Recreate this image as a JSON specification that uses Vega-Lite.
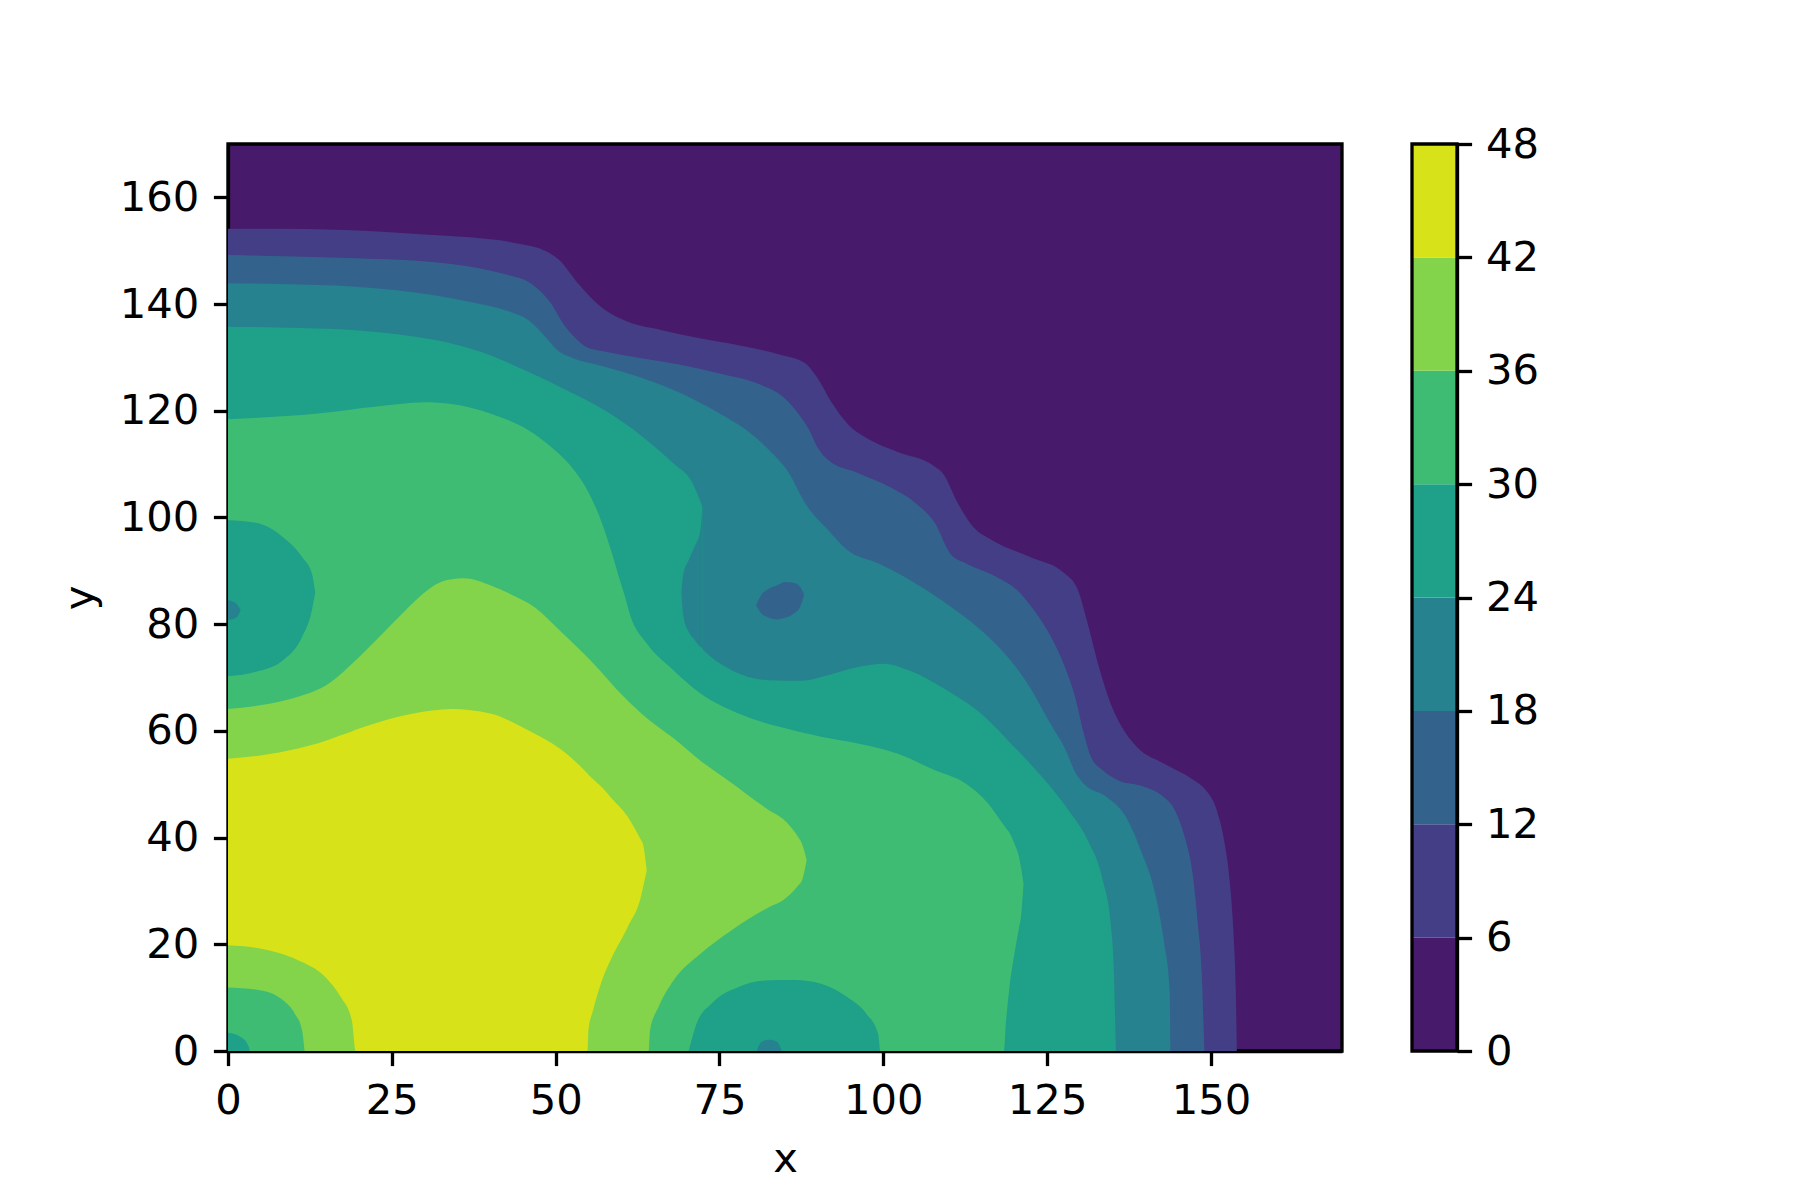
{
  "$schema": "https://vega.github.io/schema/vega-lite/v6.json",
  "background": "white",
  "padding": {"left": 57, "top": 124, "right": 10, "bottom": 10},
  "datasets": {
    "b6": [{"x":0,"lo":0,"hi":154.1},{"x":6.7,"lo":0,"hi":154.1},{"x":17.8,"lo":0,"hi":153.9},{"x":29.4,"lo":0,"hi":153.1},{"x":37,"lo":0,"hi":152.5},{"x":44,"lo":0,"hi":151.4},{"x":48.7,"lo":0,"hi":149.8},{"x":50.5,"lo":0,"hi":148.3},{"x":53.4,"lo":0,"hi":143.9},{"x":56.9,"lo":0,"hi":139.5},{"x":60.4,"lo":0,"hi":137},{"x":66.2,"lo":0,"hi":135.1},{"x":72,"lo":0,"hi":133.6},{"x":77.9,"lo":0,"hi":132.3},{"x":84,"lo":0,"hi":130.6},{"x":88.1,"lo":0,"hi":128.9},{"x":89.8,"lo":0,"hi":126.4},{"x":92.2,"lo":0,"hi":121.4},{"x":94.5,"lo":0,"hi":117.6},{"x":98,"lo":0,"hi":114.5},{"x":102.1,"lo":0,"hi":112.3},{"x":107.9,"lo":0,"hi":109.5},{"x":109.1,"lo":0,"hi":108.25},{"x":111.4,"lo":0,"hi":102.6},{"x":113.7,"lo":0,"hi":98.25},{"x":116.6,"lo":0,"hi":95.75},{"x":122.4,"lo":0,"hi":92.6},{"x":127.7,"lo":0,"hi":89.5},{"x":129.7,"lo":0,"hi":86.4},{"x":131.2,"lo":0,"hi":80.1},{"x":132.9,"lo":0,"hi":72},{"x":134.7,"lo":0,"hi":65.1},{"x":136.4,"lo":0,"hi":60.75},{"x":138.7,"lo":0,"hi":57},{"x":142.8,"lo":0,"hi":53.9},{"x":147.4,"lo":0,"hi":50.75},{"x":149.2,"lo":0,"hi":48.9},{"x":150.9,"lo":0,"hi":45.1},{"x":152.1,"lo":0,"hi":38.9},{"x":153,"lo":0,"hi":30.1},{"x":153.5,"lo":0,"hi":20.75},{"x":153.8,"lo":0,"hi":11.4},{"x":153.95,"lo":0,"hi":0}],
    "b12": [{"x":0,"lo":0,"hi":149.2},{"x":6.7,"lo":0,"hi":149},{"x":19.5,"lo":0,"hi":148.6},{"x":31.2,"lo":0,"hi":147.9},{"x":37,"lo":0,"hi":147},{"x":42.9,"lo":0,"hi":145.4},{"x":45.8,"lo":0,"hi":144.2},{"x":47.5,"lo":0,"hi":142.6},{"x":49.3,"lo":0,"hi":140.1},{"x":51.1,"lo":0,"hi":136.4},{"x":52.8,"lo":0,"hi":133.9},{"x":54.6,"lo":0,"hi":132},{"x":57.5,"lo":0,"hi":131.1},{"x":63.3,"lo":0,"hi":129.8},{"x":69.2,"lo":0,"hi":128.6},{"x":75,"lo":0,"hi":127},{"x":80.8,"lo":0,"hi":125.1},{"x":85,"lo":0,"hi":122.3},{"x":87,"lo":0,"hi":119.5},{"x":88.7,"lo":0,"hi":116.4},{"x":89.9,"lo":0,"hi":113.25},{"x":91.6,"lo":0,"hi":110.75},{"x":96.3,"lo":0,"hi":108.25},{"x":100.9,"lo":0,"hi":105.75},{"x":105,"lo":0,"hi":102.6},{"x":107.9,"lo":0,"hi":98.9},{"x":110.2,"lo":0,"hi":93.25},{"x":112.6,"lo":0,"hi":91.4},{"x":117.2,"lo":0,"hi":88.9},{"x":120.4,"lo":0,"hi":86.4},{"x":123,"lo":0,"hi":82.6},{"x":125.3,"lo":0,"hi":78.25},{"x":127.7,"lo":0,"hi":72},{"x":129.4,"lo":0,"hi":65.75},{"x":130.6,"lo":0,"hi":59.5},{"x":131.7,"lo":0,"hi":55.1},{"x":133.5,"lo":0,"hi":52.6},{"x":135.8,"lo":0,"hi":50.75},{"x":139.9,"lo":0,"hi":49.5},{"x":142.8,"lo":0,"hi":47.6},{"x":144.5,"lo":0,"hi":45.1},{"x":146,"lo":0,"hi":40.1},{"x":147.2,"lo":0,"hi":33.25},{"x":148,"lo":0,"hi":23.9},{"x":148.6,"lo":0,"hi":14.5},{"x":149,"lo":0,"hi":0}],
    "b18": [{"x":0,"lo":0,"hi":143.9},{"x":7.8,"lo":0,"hi":143.75},{"x":19.5,"lo":0,"hi":143.25},{"x":31.2,"lo":0,"hi":141.7},{"x":37,"lo":0,"hi":140.4},{"x":42.9,"lo":0,"hi":138.6},{"x":45.8,"lo":0,"hi":137},{"x":47.5,"lo":0,"hi":135.1},{"x":49.3,"lo":0,"hi":132.6},{"x":50.5,"lo":0,"hi":131.1},{"x":52.2,"lo":0,"hi":130.1},{"x":57.5,"lo":0,"hi":128.25},{"x":63.3,"lo":0,"hi":126.1},{"x":69.2,"lo":0,"hi":123.25},{"x":75,"lo":0,"hi":119.5},{"x":79.1,"lo":0,"hi":116.4},{"x":82.6,"lo":0,"hi":112.6},{"x":85.5,"lo":0,"hi":108.5},{"x":88.1,"lo":0,"hi":102.6},{"x":91.6,"lo":0,"hi":97.6},{"x":94.5,"lo":0,"hi":93.9},{"x":99.2,"lo":0,"hi":91.4},{"x":105,"lo":0,"hi":87.6},{"x":110.5,"lo":0,"hi":83.1},{"x":115.5,"lo":0,"hi":78.25},{"x":119.5,"lo":0,"hi":73.1},{"x":122.4,"lo":0,"hi":68.1},{"x":125.3,"lo":0,"hi":61.75},{"x":127.7,"lo":0,"hi":56.75},{"x":129.4,"lo":0,"hi":52},{"x":130.6,"lo":0,"hi":50.1},{"x":134.1,"lo":0,"hi":47.6},{"x":137,"lo":0,"hi":43.9},{"x":139.3,"lo":0,"hi":37.6},{"x":141.6,"lo":0,"hi":28.9},{"x":142.8,"lo":0,"hi":20.75},{"x":143.7,"lo":0,"hi":11.4},{"x":143.8,"lo":0,"hi":0}],
    "b24a": [{"x":0,"lo":0,"hi":135.75},{"x":7.8,"lo":0,"hi":135.6},{"x":19.5,"lo":0,"hi":135.1},{"x":28.3,"lo":0,"hi":133.9},{"x":34.1,"lo":0,"hi":132.6},{"x":40,"lo":0,"hi":130.4},{"x":45.8,"lo":0,"hi":127.3},{"x":51.6,"lo":0,"hi":123.9},{"x":57.5,"lo":0,"hi":120.1},{"x":63.3,"lo":0,"hi":115.1},{"x":68,"lo":0,"hi":110.1},{"x":70.9,"lo":0,"hi":106.4},{"x":72.4,"lo":0,"hi":102}],
    "b24b": [{"x":69.2,"lo":0,"hi":86},{"x":69.5,"lo":0,"hi":81.5},{"x":70.3,"lo":0,"hi":78.6},{"x":72.1,"lo":0,"hi":75.75},{"x":76.8,"lo":0,"hi":71.4},{"x":82.6,"lo":0,"hi":69.5},{"x":87.7,"lo":0,"hi":69.4},{"x":90.5,"lo":0,"hi":70.1},{"x":96.3,"lo":0,"hi":72},{"x":100,"lo":0,"hi":72.6},{"x":103.8,"lo":0,"hi":71.4},{"x":109.7,"lo":0,"hi":67.6},{"x":115.5,"lo":0,"hi":62.6},{"x":119.5,"lo":0,"hi":57.6},{"x":124.2,"lo":0,"hi":51.4},{"x":128.3,"lo":0,"hi":45.1},{"x":131.2,"lo":0,"hi":39.5},{"x":133.5,"lo":0,"hi":32},{"x":134.7,"lo":0,"hi":23.9},{"x":135.2,"lo":0,"hi":14.5},{"x":135.5,"lo":0,"hi":0}],
    "c18": [{"x":69.2,"lo":86,"hi":86},{"x":69.5,"lo":81.5,"hi":89.5},{"x":70.3,"lo":78.6,"hi":92},{"x":71.2,"lo":77.1,"hi":94.5},{"x":72.1,"lo":75.75,"hi":97.6},{"x":72.4,"lo":75.5,"hi":102}],
    "b30": [{"x":0,"lo":0,"hi":118.4},{"x":3.2,"lo":0,"hi":118.6},{"x":13.7,"lo":0,"hi":119.5},{"x":22.4,"lo":0,"hi":120.75},{"x":30,"lo":0,"hi":121.6},{"x":34.1,"lo":0,"hi":121.25},{"x":40,"lo":0,"hi":119.5},{"x":45.8,"lo":0,"hi":116.4},{"x":49.9,"lo":0,"hi":112.6},{"x":52.8,"lo":0,"hi":108.9},{"x":55.1,"lo":0,"hi":104.5},{"x":56.9,"lo":0,"hi":99.5},{"x":58.6,"lo":0,"hi":93.25},{"x":59.8,"lo":0,"hi":88.25},{"x":60.5,"lo":0,"hi":85.5},{"x":61.4,"lo":0,"hi":81.6},{"x":63.9,"lo":0,"hi":76.4},{"x":67.4,"lo":0,"hi":72},{"x":72.1,"lo":0,"hi":67},{"x":77.9,"lo":0,"hi":63.25},{"x":84,"lo":0,"hi":60.8},{"x":90.5,"lo":0,"hi":58.9},{"x":96.3,"lo":0,"hi":57.6},{"x":102.1,"lo":0,"hi":55.75},{"x":107.9,"lo":0,"hi":52.6},{"x":112.6,"lo":0,"hi":50.1},{"x":116,"lo":0,"hi":46.4},{"x":118.4,"lo":0,"hi":42.3},{"x":118.7,"lo":5.1,"hi":41.8},{"x":119.2,"lo":11.4,"hi":41},{"x":120.1,"lo":18.9,"hi":38.6},{"x":120.7,"lo":23,"hi":36.4},{"x":121,"lo":25.1,"hi":34.5},{"x":121.4,"lo":31.4,"hi":31.4}],
    "b36": [{"x":0,"lo":0,"hi":64.1},{"x":4.9,"lo":0,"hi":64.8},{"x":10.7,"lo":0,"hi":66.4},{"x":15.4,"lo":0,"hi":68.9},{"x":19.5,"lo":0,"hi":73.25},{"x":23.6,"lo":0,"hi":78.25},{"x":27.1,"lo":0,"hi":82.6},{"x":29.5,"lo":0,"hi":85.4},{"x":31.5,"lo":0,"hi":87.3},{"x":33.5,"lo":0,"hi":88.3},{"x":35.9,"lo":0,"hi":88.6},{"x":38,"lo":0,"hi":88.2},{"x":40,"lo":0,"hi":87.3},{"x":44,"lo":0,"hi":85.1},{"x":46.4,"lo":0,"hi":83.5},{"x":51.1,"lo":0,"hi":78.25},{"x":55.8,"lo":0,"hi":72.6},{"x":60.4,"lo":0,"hi":66.4},{"x":64.2,"lo":0,"hi":62.1},{"x":64.4,"lo":3.9,"hi":61.9},{"x":65.7,"lo":8.25,"hi":60.7},{"x":68,"lo":13.25,"hi":58.6},{"x":72.1,"lo":18.25,"hi":54.4},{"x":76.8,"lo":22.6,"hi":50.3},{"x":82.6,"lo":27,"hi":45.1},{"x":84.7,"lo":28.25,"hi":43.5},{"x":87,"lo":31,"hi":40.1},{"x":87.6,"lo":32,"hi":38.8},{"x":88.3,"lo":35.75,"hi":35.75}],
    "b42": [{"x":0,"lo":19.8,"hi":54.8},{"x":4.9,"lo":19.2,"hi":55.4},{"x":10.7,"lo":17,"hi":56.7},{"x":14.8,"lo":13.9,"hi":58.1},{"x":17.2,"lo":10.1,"hi":59.2},{"x":18.9,"lo":5.75,"hi":59.9},{"x":19.5,"lo":0,"hi":60.2},{"x":22.4,"lo":0,"hi":61.4},{"x":28.3,"lo":0,"hi":63.25},{"x":34.1,"lo":0,"hi":64.1},{"x":40,"lo":0,"hi":63.25},{"x":45.8,"lo":0,"hi":60.1},{"x":51.6,"lo":0,"hi":55.75},{"x":54.85,"lo":0,"hi":52},{"x":55,"lo":3.9,"hi":51.8},{"x":55.7,"lo":7.6,"hi":51},{"x":56.9,"lo":12.6,"hi":49.6},{"x":58.6,"lo":17.6,"hi":47.3},{"x":61,"lo":23.25,"hi":43.9},{"x":63,"lo":28.9,"hi":39.6},{"x":63.3,"lo":30.5,"hi":38.9},{"x":63.9,"lo":33.9,"hi":33.9}],
    "i24L": [{"x":0,"lo":70.25,"hi":99.5},{"x":4.3,"lo":71.1,"hi":99},{"x":8.4,"lo":73.25,"hi":96.3},{"x":11.3,"lo":77.6,"hi":92.6},{"x":12.8,"lo":82.6,"hi":89.5},{"x":13.3,"lo":85.9,"hi":86.1}],
    "i18L": [{"x":0,"lo":80.75,"hi":84.5},{"x":1,"lo":81.1,"hi":84.1},{"x":1.5,"lo":81.6,"hi":83.5},{"x":1.9,"lo":82.5,"hi":82.7}],
    "i30C": [{"x":0,"lo":0,"hi":11.9},{"x":4.9,"lo":0,"hi":11.4},{"x":8.4,"lo":0,"hi":9.5},{"x":10.2,"lo":0,"hi":7},{"x":11.3,"lo":0,"hi":3.9},{"x":11.7,"lo":0,"hi":0}],
    "i24C": [{"x":0,"lo":0,"hi":3.4},{"x":2,"lo":0,"hi":2.6},{"x":3.2,"lo":0,"hi":0.75},{"x":3.3,"lo":0,"hi":0}],
    "i24B": [{"x":70.3,"lo":0,"hi":0},{"x":71.5,"lo":0,"hi":5.1},{"x":73.8,"lo":0,"hi":8.9},{"x":77.9,"lo":0,"hi":12},{"x":82.6,"lo":0,"hi":13.25},{"x":86.5,"lo":0,"hi":13.3},{"x":90.5,"lo":0,"hi":12.6},{"x":94.5,"lo":0,"hi":10.1},{"x":97.4,"lo":0,"hi":7},{"x":99.2,"lo":0,"hi":3.25},{"x":99.5,"lo":0,"hi":0}],
    "i18B": [{"x":80.7,"lo":0,"hi":0},{"x":81.4,"lo":0,"hi":1.7},{"x":82.6,"lo":0,"hi":2.1},{"x":83.8,"lo":0,"hi":1.7},{"x":84.5,"lo":0,"hi":0}],
    "i12": [{"x":80.6,"lo":83.5,"hi":83.6},{"x":81.4,"lo":82,"hi":85.5},{"x":82.6,"lo":81.2,"hi":86.7},{"x":83.8,"lo":80.9,"hi":87.3},{"x":85,"lo":81.2,"hi":87.9},{"x":86.4,"lo":82,"hi":87.7},{"x":87.3,"lo":83.2,"hi":87},{"x":87.9,"lo":85.4,"hi":85.6}],
    "cbar": [{"band":"0-6","lo":0,"hi":6},{"band":"6-12","lo":6,"hi":12},{"band":"12-18","lo":12,"hi":18},{"band":"18-24","lo":18,"hi":24},{"band":"24-30","lo":24,"hi":30},{"band":"30-36","lo":30,"hi":36},{"band":"36-42","lo":36,"hi":42},{"band":"42-48","lo":42,"hi":48}]
  },
  "hconcat": [
    {
      "width": 1114,
      "height": 907,
      "view": {"fill": "#481a6c", "stroke": "black", "strokeWidth": 3.3},
      "encoding": {
        "x": {"field": "x", "type": "quantitative", "scale": {"domain": [0, 170], "nice": false, "zero": false}, "axis": {"title": "x", "values": [0, 25, 50, 75, 100, 125, 150], "titlePadding": 17}},
        "y": {"field": "hi", "type": "quantitative", "scale": {"domain": [0, 170], "nice": false, "zero": false}, "axis": {"title": "y", "values": [0, 20, 40, 60, 80, 100, 120, 140, 160], "titlePadding": 18}},
        "y2": {"field": "lo"}
      },
      "layer": [
        {"data": {"name": "b6"}, "mark": {"type": "area", "interpolate": "monotone"}, "encoding": {"color": {"datum": "6-12", "type": "nominal", "scale": {"domain": ["0-6","6-12","12-18","18-24","24-30","30-36","36-42","42-48"], "range": ["#481a6c","#433e85","#33638d","#26828e","#1fa088","#3fbc73","#84d44b","#d8e219"]}, "legend": null}}},
        {"data": {"name": "b12"}, "mark": {"type": "area", "interpolate": "monotone"}, "encoding": {"color": {"datum": "12-18", "type": "nominal", "legend": null}}},
        {"data": {"name": "b18"}, "mark": {"type": "area", "interpolate": "monotone"}, "encoding": {"color": {"datum": "18-24", "type": "nominal", "legend": null}}},
        {"data": {"name": "b24a"}, "mark": {"type": "area", "interpolate": "monotone"}, "encoding": {"color": {"datum": "24-30", "type": "nominal", "legend": null}}},
        {"data": {"name": "b24b"}, "mark": {"type": "area", "interpolate": "monotone"}, "encoding": {"color": {"datum": "24-30", "type": "nominal", "legend": null}}},
        {"data": {"name": "c18"}, "mark": {"type": "area", "interpolate": "monotone"}, "encoding": {"color": {"datum": "18-24", "type": "nominal", "legend": null}}},
        {"data": {"name": "b30"}, "mark": {"type": "area", "interpolate": "monotone"}, "encoding": {"color": {"datum": "30-36", "type": "nominal", "legend": null}}},
        {"data": {"name": "b36"}, "mark": {"type": "area", "interpolate": "monotone"}, "encoding": {"color": {"datum": "36-42", "type": "nominal", "legend": null}}},
        {"data": {"name": "b42"}, "mark": {"type": "area", "interpolate": "monotone"}, "encoding": {"color": {"datum": "42-48", "type": "nominal", "legend": null}}},
        {"data": {"name": "i24L"}, "mark": {"type": "area", "interpolate": "monotone"}, "encoding": {"color": {"datum": "24-30", "type": "nominal", "legend": null}}},
        {"data": {"name": "i18L"}, "mark": {"type": "area", "interpolate": "monotone"}, "encoding": {"color": {"datum": "18-24", "type": "nominal", "legend": null}}},
        {"data": {"name": "i30C"}, "mark": {"type": "area", "interpolate": "monotone"}, "encoding": {"color": {"datum": "30-36", "type": "nominal", "legend": null}}},
        {"data": {"name": "i24C"}, "mark": {"type": "area", "interpolate": "monotone"}, "encoding": {"color": {"datum": "24-30", "type": "nominal", "legend": null}}},
        {"data": {"name": "i24B"}, "mark": {"type": "area", "interpolate": "monotone"}, "encoding": {"color": {"datum": "24-30", "type": "nominal", "legend": null}}},
        {"data": {"name": "i18B"}, "mark": {"type": "area", "interpolate": "monotone"}, "encoding": {"color": {"datum": "18-24", "type": "nominal", "legend": null}}},
        {"data": {"name": "i12"}, "mark": {"type": "area", "interpolate": "monotone"}, "encoding": {"color": {"datum": "12-18", "type": "nominal", "legend": null}}}
      ]
    },
    {
      "width": 45,
      "height": 907,
      "view": {"stroke": null},
      "layer": [
        {
          "data": {"name": "cbar"},
          "mark": {"type": "rect"},
          "encoding": {
            "y": {"field": "lo", "type": "quantitative", "scale": {"domain": [0, 48], "nice": false, "zero": false}, "axis": {"orient": "right", "title": null, "values": [0, 6, 12, 18, 24, 30, 36, 42, 48], "labelPadding": 14}},
            "y2": {"field": "hi"},
            "color": {"field": "band", "type": "nominal", "scale": {"domain": ["0-6","6-12","12-18","18-24","24-30","30-36","36-42","42-48"], "range": ["#481a6c","#433e85","#33638d","#26828e","#1fa088","#3fbc73","#84d44b","#d8e219"]}, "legend": null}
          }
        },
        {
          "data": {"values": [{"lo": 0, "hi": 48}]},
          "mark": {"type": "rect", "filled": false, "stroke": "black", "strokeWidth": 3.3},
          "encoding": {
            "y": {"field": "lo", "type": "quantitative"},
            "y2": {"field": "hi"}
          }
        }
      ]
    }
  ],
  "spacing": 70,
  "bounds": "flush",
  "config": {
    "font": "DejaVu Sans",
    "axis": {
      "labelFont": "DejaVu Sans", "labelFontSize": 41.7, "labelColor": "black",
      "titleFont": "DejaVu Sans", "titleFontSize": 41.7, "titleFontWeight": "normal", "titleColor": "black",
      "tickColor": "black", "tickSize": 14.6, "tickWidth": 3.3,
      "domainColor": "black", "domainWidth": 3.3,
      "labelPadding": 14.6, "grid": false, "labelFlush": false, "labelOverlap": false, "zindex": 1
    }
  }
}
